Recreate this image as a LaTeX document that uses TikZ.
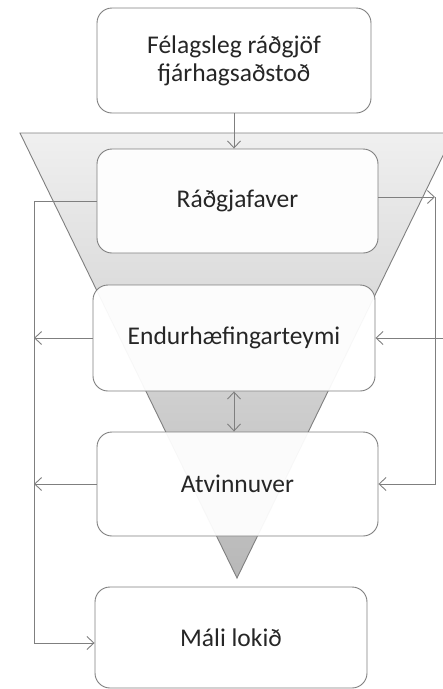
\documentclass[tikz,border=0pt]{standalone}
\usepackage{fontspec}
\setmainfont{Carlito}
\usetikzlibrary{arrows.meta,calc}
\definecolor{lgray}{HTML}{7F7F7F}
\definecolor{txt}{HTML}{262626}
\begin{document}
\begin{tikzpicture}[x=1pt,y=-1pt,
  box/.style={draw=lgray, line width=0.9pt, rounded corners=15pt, fill=white, fill opacity=0.94, text opacity=1, text=txt,
    font=\fontsize{25.5}{28}\selectfont, align=center, inner sep=0pt},
  conn/.style={draw=lgray, line width=0.9pt},
  arr/.style={conn, -{Straight Barb[length=7pt,width=13pt]}},
  darr/.style={conn, {Straight Barb[length=7pt,width=13pt]}-{Straight Barb[length=7pt,width=13pt]}}]
\clip (0,0) rectangle (443,689);
% funnel
\shade[top color=white!94!black, bottom color=white!72!black] (20,133) -- (454,133) -- (237,578) -- cycle;
\draw[lgray, line width=0.9pt] (20,133) -- (454,133) -- (237,578) -- cycle;
% boxes
\node[box, minimum width=274pt, minimum height=105pt] (top) at (234,60.5) {Félagsleg ráðgjöf\\fjárhagsaðstoð};
\node[box, minimum width=281pt, minimum height=104pt] (rad) at (237.5,201) {Ráðgjafaver};
\node[box, minimum width=282pt, minimum height=106pt] (end) at (234,338) {Endurhæfingarteymi};
\node[box, minimum width=281pt, minimum height=104pt] (atv) at (237.5,484) {Atvinnuver};
\node[box, minimum width=272pt, minimum height=101pt] (mal) at (231,637.5) {Máli lokið};
% coordinates
\coordinate (L1) at (34,201);
\coordinate (L2) at (34,643);
\coordinate (R1) at (435,197);
\coordinate (R2) at (435,484);
\coordinate (R3) at (445,338);
% connectors
\draw[arr] (top.south) -- (top.south |- rad.north);
\draw[arr] (rad.west) -- (L1) -- (L2) -- (mal.west |- L2);
\draw[arr] (end.west) -- (end.west -| L1);
\draw[arr] (atv.west) -- (atv.west -| L1);
\draw[arr] (rad.east |- R1) -- (R1);
\draw[arr] (R1) -- (R2) -- (atv.east);
\draw[arr] (R3) -- (end.east);
\draw[darr] (end.south -| top.south) -- (atv.north -| top.south);
\end{tikzpicture}
\end{document}
